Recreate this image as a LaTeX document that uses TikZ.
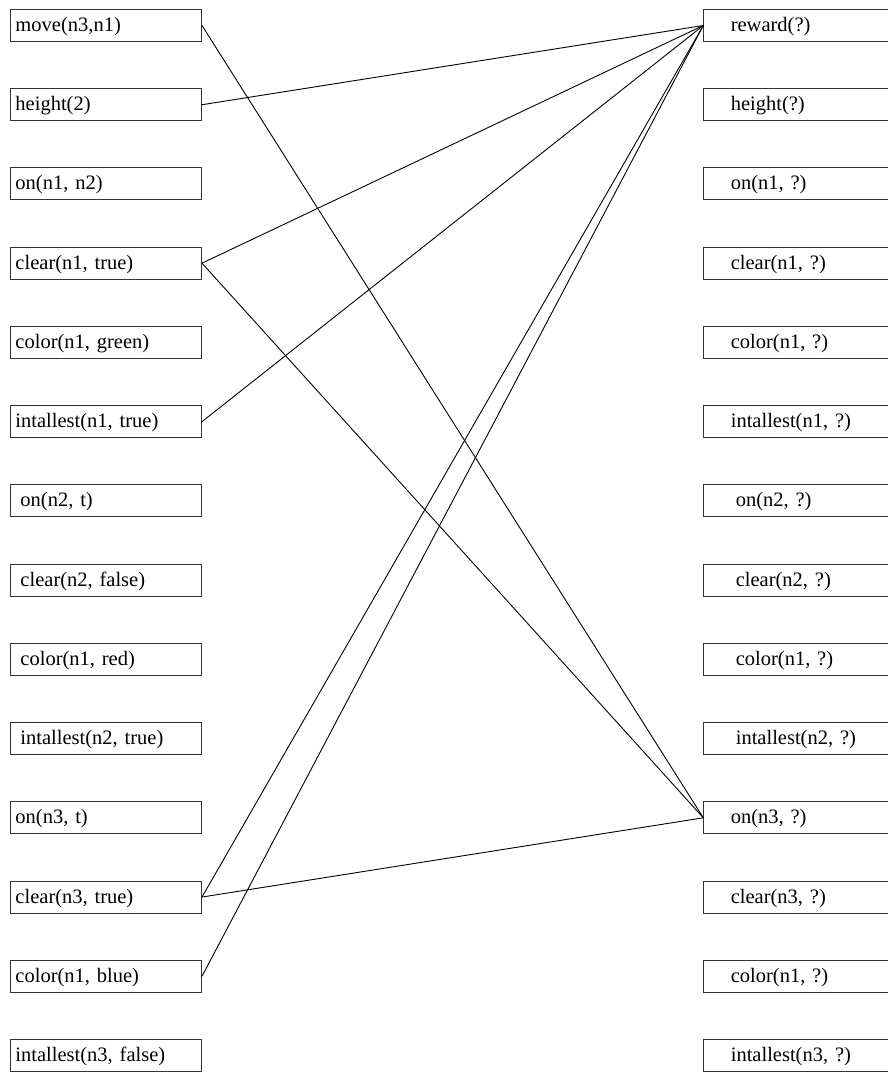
\documentclass[tikz,border=0pt]{standalone}
\usepackage{fontspec}
\setmainfont{Liberation Serif}
\begin{document}
\begin{tikzpicture}[x=1pt,y=-1pt,
  box/.style={draw=black!80,line width=1pt,rectangle,anchor=north west,
    minimum height=32pt,inner xsep=5pt,inner ysep=0pt,align=left,
    text height=16pt,text depth=4pt,font=\fontsize{20.5}{24}\selectfont},
  lbox/.style={box,text width=181pt},
  rbox/.style={box,text width=190pt},
  link/.style={draw=black,line width=0.9pt}]
\useasboundingbox (0,0) rectangle (888,1072);
\clip (0,0) rectangle (888,1072);
\def\rs{79.23}
% left column
\node[lbox] (L0) at (10,9) {move(n3,n1)};
\node[lbox] (L1) at (10,9+1*\rs) {height(2)};
\node[lbox] (L2) at (10,9+2*\rs) {on(n1, n2)};
\node[lbox] (L3) at (10,9+3*\rs) {clear(n1, true)};
\node[lbox] (L4) at (10,9+4*\rs) {color(n1, green)};
\node[lbox] (L5) at (10,9+5*\rs) {intallest(n1, true)};
\node[lbox] (L6) at (10,9+6*\rs) {\hspace*{5pt}on(n2, t)};
\node[lbox] (L7) at (10,9+7*\rs) {\hspace*{5pt}clear(n2, false)};
\node[lbox] (L8) at (10,9+8*\rs) {\hspace*{5pt}color(n1, red)};
\node[lbox] (L9) at (10,9+9*\rs) {\hspace*{5pt}intallest(n2, true)};
\node[lbox] (L10) at (10,9+10*\rs) {on(n3, t)};
\node[lbox] (L11) at (10,9+11*\rs) {clear(n3, true)};
\node[lbox] (L12) at (10,9+12*\rs) {color(n1, blue)};
\node[lbox] (L13) at (10,9+13*\rs) {intallest(n3, false)};
% right column
\node[rbox] (R0) at (703.3,9) {\hspace*{22pt}reward(?)};
\node[rbox] (R1) at (703.3,9+1*\rs) {\hspace*{22pt}height(?)};
\node[rbox] (R2) at (703.3,9+2*\rs) {\hspace*{22pt}on(n1, ?)};
\node[rbox] (R3) at (703.3,9+3*\rs) {\hspace*{22pt}clear(n1, ?)};
\node[rbox] (R4) at (703.3,9+4*\rs) {\hspace*{22pt}color(n1, ?)};
\node[rbox] (R5) at (703.3,9+5*\rs) {\hspace*{22pt}intallest(n1, ?)};
\node[rbox] (R6) at (703.3,9+6*\rs) {\hspace*{27pt}on(n2, ?)};
\node[rbox] (R7) at (703.3,9+7*\rs) {\hspace*{27pt}clear(n2, ?)};
\node[rbox] (R8) at (703.3,9+8*\rs) {\hspace*{27pt}color(n1, ?)};
\node[rbox] (R9) at (703.3,9+9*\rs) {\hspace*{27pt}intallest(n2, ?)};
\node[rbox] (R10) at (703.3,9+10*\rs) {\hspace*{22pt}on(n3, ?)};
\node[rbox] (R11) at (703.3,9+11*\rs) {\hspace*{22pt}clear(n3, ?)};
\node[rbox] (R12) at (703.3,9+12*\rs) {\hspace*{22pt}color(n1, ?)};
\node[rbox] (R13) at (703.3,9+13*\rs) {\hspace*{22pt}intallest(n3, ?)};
% connections
\draw[link] (L0.east) -- (R10.west);
\draw[link] (L1.east) -- (R0.west);
\draw[link] (L3.east) -- (R0.west);
\draw[link] (L3.east) -- (R10.west);
\draw[link] (L5.east) -- (R0.west);
\draw[link] (L11.east) -- (R0.west);
\draw[link] (L11.east) -- (R10.west);
\draw[link] (L12.east) -- (R0.west);
\end{tikzpicture}
\end{document}
